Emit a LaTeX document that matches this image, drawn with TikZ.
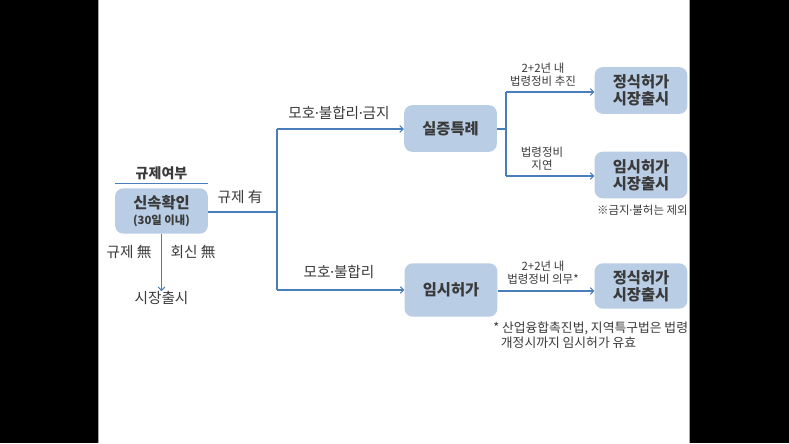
\documentclass[tikz,border=0pt]{standalone}
\usepackage{fontspec}
\setmainfont{Noto Sans CJK KR}
\newfontfamily\dvfont{DejaVu Sans}
\usetikzlibrary{arrows.meta}
\definecolor{boxfill}{HTML}{B9CDE5}
\definecolor{linec}{HTML}{4A7EBB}
\definecolor{txt}{HTML}{3A3A3A}
\newcommand{\mdt}{{\dvfont\kern-0.04em·\kern-0.04em}}
\begin{document}
\begin{tikzpicture}[x=0.75pt,y=-0.75pt,
  kbox/.style={fill=boxfill, rounded corners=6pt, text=txt, align=center, inner sep=0pt,
    minimum width=69.5pt, font=\bfseries\fontsize{11.5}{13}\selectfont},
  lbl/.style={text=txt, align=center, inner sep=0pt, font=\fontsize{11}{12.5}\selectfont},
  slbl/.style={text=txt, align=center, inner sep=0pt, font=\fontsize{8.6}{10}\selectfont},
  conn/.style={draw=linec, line width=0.8pt},
  arr/.style={conn, -{Straight Barb[length=2.5pt,width=5pt]}}
]
\useasboundingbox (0,0) rectangle (789,443);
\fill[black] (0,0) rectangle (98,443);
\fill[black] (690,0) rectangle (789,443);
\fill[white] (98,0) rectangle (690,443);
\draw[gray!70, line width=0.6pt] (98.5,0) -- (98.5,443);
\draw[gray!70, line width=0.6pt] (689.5,0) -- (689.5,443);

% boxes
\node[kbox, minimum height=34pt] (sin) at (161.5,211) {신속확인\\[-1pt]{\fontsize{8.5}{10}\selectfont (30일 이내)}};
\node[kbox, minimum height=35pt] (sil) at (450.5,128.5) {실증특례};
\node[kbox, minimum height=40pt] (ims) at (451,290) {임시허가};
\node[kbox, minimum height=35pt] (j1) at (641,90.5) {정식허가\\시장출시};
\node[kbox, minimum height=35pt] (t1) at (641,175) {임시허가\\시장출시};
\node[kbox, minimum height=34pt] (j2) at (641,286) {정식허가\\시장출시};

% title and underline
\node[text=txt, font=\bfseries\fontsize{10.5}{12}\selectfont, inner sep=0pt] (title) at (161.5,173) {규제여부};
\coordinate (ulA) at (115,183.5);
\coordinate (ulB) at (208,183.5);
\draw[conn] (ulA) -- (ulB);

% main split
\coordinate (vtop) at (277,129);
\coordinate (vmid) at (277,212);
\coordinate (vbot) at (277,290);
\draw[conn] (sin.east |- vmid) -- (vmid);
\draw[conn] (vtop) -- (vbot);
\draw[arr] (vtop) -- (sil.west |- vtop);
\draw[arr] (vbot) -- (ims.west |- vbot);
\node[lbl] (lyes) at (240,197) {규제 有};
\node[lbl] (l1) at (339,113) {모호\mdt 불합리\mdt 금지};
\node[lbl] (l2) at (339,272) {모호\mdt 불합리};

% down branch
\node[lbl] (mkt) at (161.5,298) {시장출시};
\draw[arr] (sin.south) -- (mkt.north);
\node[lbl] (lno1) at (129,252) {규제 無};
\node[lbl] (lno2) at (193,252) {회신 無};

% right split of 실증특례
\coordinate (rmid) at (506,129);
\coordinate (rtop) at (506,92);
\coordinate (rbot) at (506,176);
\draw[conn] (sil.east |- rmid) -- (rmid);
\draw[conn] (rtop) -- (rbot);
\draw[arr] (rtop) -- (j1.west |- rtop);
\draw[arr] (rbot) -- (t1.west |- rbot);
\node[slbl] (la) at (543,74.5) {2+2년 내\\법령정비 추진};
\node[slbl] (lb) at (542,158.5) {법령정비\\지연};
\node[slbl, anchor=east] (na) at (688,210) {※금지\mdt 불허는 제외};

% 임시허가 -> 정식허가
\coordinate (iy) at (497,291);
\draw[arr] (ims.east |- iy) -- (j2.west |- iy);
\node[slbl] (lc) at (543,272.5) {2+2년 내\\법령정비 의무*};
\node[slbl, align=left, anchor=north west, font=\fontsize{9.6}{11}\selectfont] (nb) at (493,322)
  {* 산업융합촉진법, 지역특구법은 법령\\\hspace*{0.6em}개정시까지 임시허가 유효};
\end{tikzpicture}
\end{document}
